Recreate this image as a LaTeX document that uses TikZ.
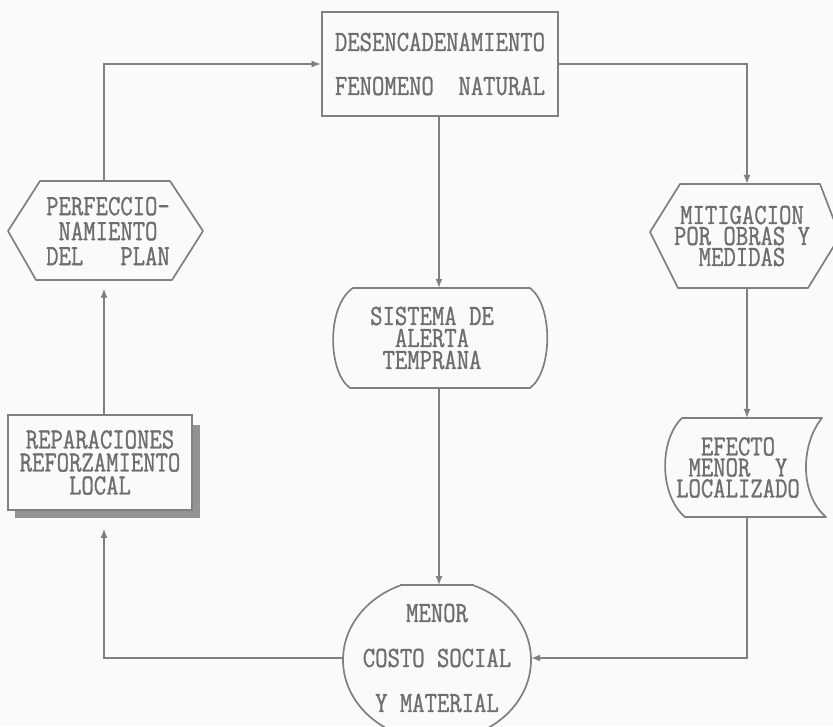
\documentclass[tikz,border=0pt]{standalone}
\usepackage{fontspec}
\usepackage{graphicx}
\usetikzlibrary{arrows.meta}
\newfontfamily\dotfont{Latin Modern Mono}[FakeBold=1.2]
\definecolor{ink}{RGB}{110,110,110}
\definecolor{wire}{RGB}{128,128,128}
\definecolor{paper}{RGB}{250,250,250}
% one printed line, stretched upward like a tall dot-matrix face
\newcommand\tl[1]{\scalebox{1}[1.22]{#1}}

\begin{document}
\begin{tikzpicture}[x=1pt,y=-1pt,
  lbl/.style={inner sep=0pt, align=center, text=ink,
    font=\dotfont\fontsize{24}{#1}\selectfont},
  outline/.style={draw=wire, line width=1.7pt, line join=round},
  rim/.style={draw=wire, line width=2.8pt, line cap=butt},
  arr/.style={draw=wire, line width=1.3pt, -{Latex[length=9pt,width=7pt]}},
]
\useasboundingbox (0,0) rectangle (833,726);
\clip (0,0) rectangle (833,726);
\fill[paper] (0,0) rectangle (833,726);

% connector columns
\coordinate (lcol) at (104,0);
\coordinate (ccol) at (439,0);
\coordinate (rcol) at (747,0);

% trigger box
\node[lbl=44, draw=wire, line width=2.6pt, minimum width=236pt, minimum height=104pt]
  (top) at (440,64) {\tl{DESENCADENAMIENTO}\\\tl{FENOMENO~~NATURAL}};

% plan improvement (hexagon)
\draw[outline] (40,181) -- (170,181) -- (203,231) -- (172,280) -- (36,280) -- (8,231) -- cycle;
\draw[rim] (40,181) -- (170,181);
\draw[rim] (36,280) -- (172,280);
\node[lbl=25, minimum height=99pt] (perf) at (108,231)
  {\tl{PERFECCIO-}\\\tl{NAMIENTO}\\\tl{DEL~~~PLAN}};

% mitigation (hexagon)
\draw[outline] (680,184) -- (820,184) -- (840,236) -- (808,288) -- (678,288) -- (650,232) -- cycle;
\draw[rim] (680,184) -- (820,184);
\draw[rim] (678,288) -- (808,288);
\node[lbl=21, minimum height=104pt] (mitig) at (742,236)
  {\tl{MITIGACION}\\\tl{POR OBRAS Y}\\\tl{MEDIDAS}};

% early warning (rounded sides)
\draw[outline] (353,288) -- (530,288)
  .. controls (553,305) and (553,371) .. (530,388) -- (350,388)
  .. controls (327,371) and (327,305) .. (353,288) -- cycle;
\draw[rim] (353,288) -- (530,288);
\draw[rim] (350,388) -- (530,388);
\node[lbl=22, minimum height=100pt] (alerta) at (432,338)
  {\tl{SISTEMA DE}\\\tl{ALERTA}\\\tl{TEMPRANA}};

% local effect (stored-data outline)
\draw[outline] (682,418) -- (822,418)
  .. controls (800,445) and (800,495) .. (826,517) -- (685,517)
  .. controls (659,495) and (659,440) .. (682,418) -- cycle;
\draw[rim] (682,418) -- (822,418);
\draw[rim] (685,517) -- (826,517);
\node[lbl=21, minimum height=99pt] (efecto) at (738,467.5)
  {\tl{EFECTO}\\\tl{MENOR~~Y}\\\tl{LOCALIZADO}};

% repairs (box with shadow)
\fill[wire!85] (193,425) rectangle (200,518);
\fill[wire!85] (15,511) rectangle (200,518);
\node[lbl=23, draw=wire, line width=1.7pt, fill=paper, minimum width=184pt, minimum height=95pt]
  (repar) at (100,462.5) {\tl{REPARACIONES}\\\tl{REFORZAMIENTO}\\\tl{LOCAL}};

% lower social cost (flat-topped ellipse)
\begin{scope}
  \clip (300,585) rectangle (600,760);
  \draw[outline] (437,660) ellipse [x radius=94, y radius=81];
\end{scope}
\draw[rim] (400,585) -- (474,585);
\coordinate (menortop) at (439,585);
\node[lbl=45, minimum width=188pt, minimum height=150pt] (menor) at (437,658)
  {\tl{MENOR}\\\tl{COSTO SOCIAL}\\\tl{Y MATERIAL}};

% connectors
\draw[arr] (perf.north -| lcol) |- (top.west);
\draw[arr] (top.east) -| (mitig.north -| rcol);
\draw[arr] (top.south -| ccol) -- (alerta.north -| ccol);
\draw[arr] (alerta.south -| ccol) -- (menortop);
\draw[arr] (mitig.south -| rcol) -- (efecto.north -| rcol);
\draw[arr] (efecto.south -| rcol) |- (menor.east);
\draw[arr, shorten >=18pt] (menor.west) -| (repar.south -| lcol);
\draw[arr, shorten >=8pt] (repar.north -| lcol) -- (perf.south -| lcol);
\end{tikzpicture}
\end{document}
